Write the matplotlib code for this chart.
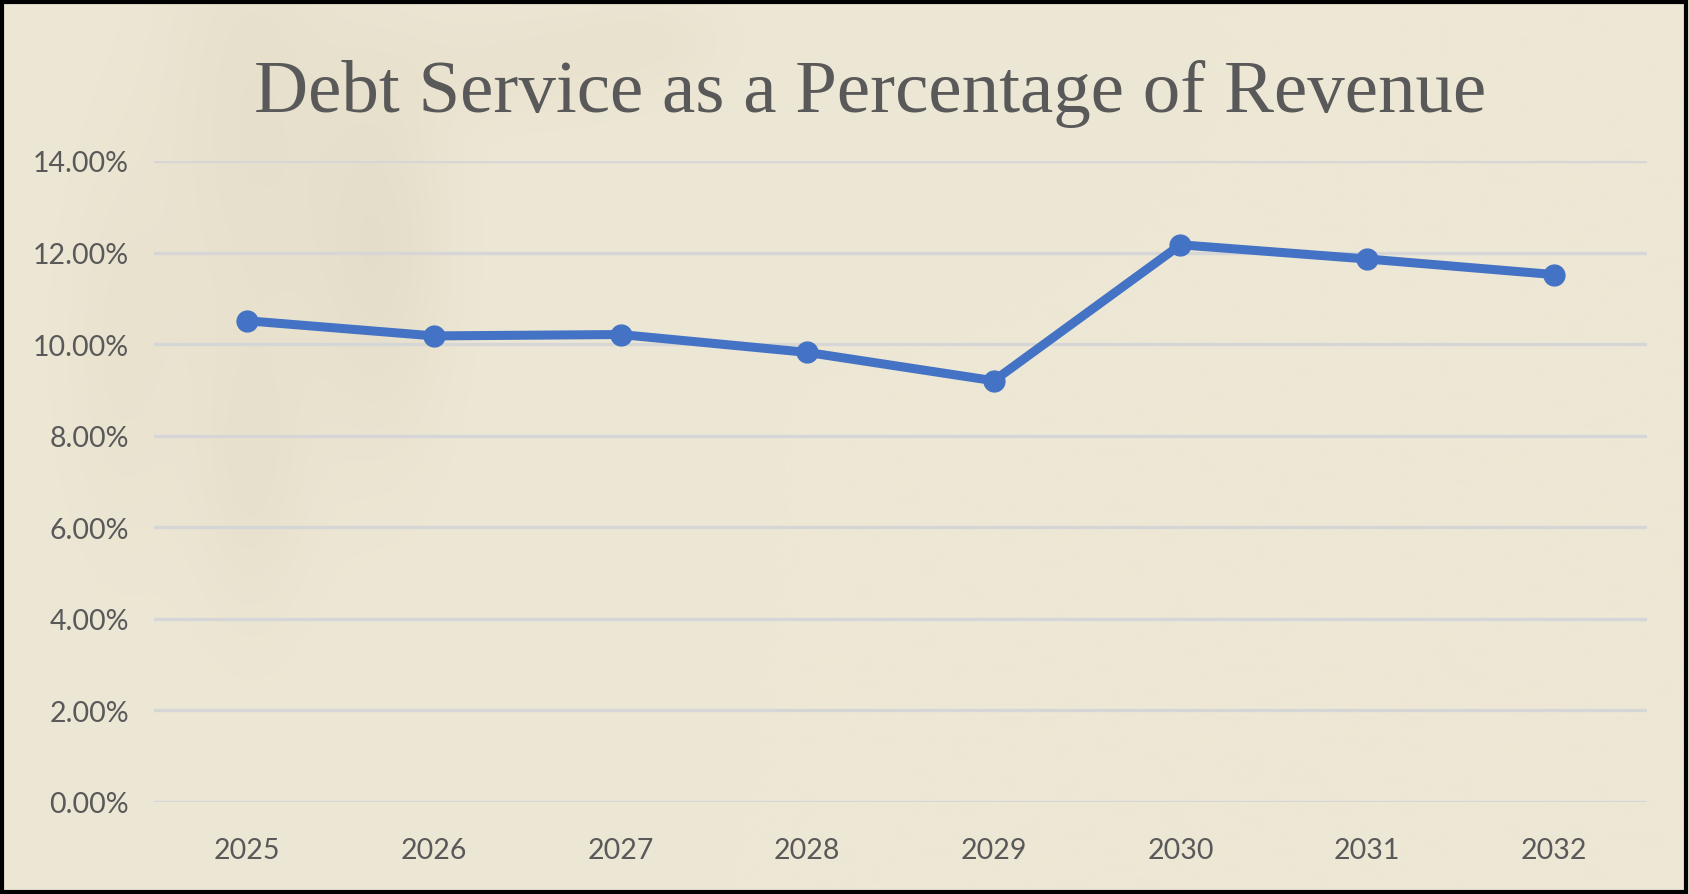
import matplotlib
matplotlib.use("Agg")
import matplotlib.pyplot as plt
import numpy as np
from matplotlib.patches import Rectangle

years = ["2025", "2026", "2027", "2028", "2029", "2030", "2031", "2032"]
debt_service_pct = [10.51, 10.18, 10.21, 9.82, 9.20, 12.17, 11.86, 11.52]
y_ticks = [0, 2, 4, 6, 8, 10, 12, 14]
title = "Debt Service as a Percentage of Revenue"

W, H = 1689, 895
fig = plt.figure(figsize=(W / 100, H / 100), dpi=100)
bg = "#EDE7D5"
fig.patch.set_facecolor(bg)

# soft shadow background (decorative)
bgax = fig.add_axes([0, 0, 1, 1], zorder=0)
yy, xx = np.mgrid[0:H:2, 0:W:2]
img = np.zeros_like(xx, dtype=float)
blobs = [(250, 120, 90, 260, 0.5), (380, 250, 70, 200, 0.6), (250, 480, 60, 150, 0.4),
         (520, 60, 120, 60, 0.3), (650, 40, 80, 50, 0.25), (120, 350, 60, 200, 0.3)]
for cx, cy, sx, sy, a in blobs:
    img += a * np.exp(-(((xx - cx) / sx) ** 2 + ((yy - cy) / sy) ** 2))
img = np.clip(img, 0, 1)
base = np.array([237, 231, 213]) / 255.0
dark = np.array([224, 217, 196]) / 255.0
rgb = base[None, None, :] * (1 - img[..., None]) + dark[None, None, :] * img[..., None]
bgax.imshow(rgb, extent=[0, W, H, 0], aspect="auto", interpolation="bilinear")
bgax.set_xlim(0, W)
bgax.set_ylim(H, 0)
bgax.axis("off")

left, right = 154 / W, 1647 / W
bottom, top = 1 - 803 / H, 1 - 162 / H
ax = fig.add_axes([left, bottom, right - left, top - bottom], zorder=1)
ax.patch.set_alpha(0)

x = np.arange(len(years))
ax.plot(x, debt_service_pct, color="#4472C4", linewidth=6.5, marker="o",
        markersize=15, solid_capstyle="round", zorder=3)

ax.set_xlim(-0.5, len(years) - 0.5)
ax.set_ylim(0, 14)
ax.set_yticks(y_ticks)
ax.set_yticklabels([f"{v:.2f}%" for v in y_ticks])
ax.set_xticks(x)
ax.set_xticklabels(years)
ax.yaxis.grid(True, color="#D6D6D6", linewidth=2.4)
ax.set_axisbelow(True)
for s in ax.spines.values():
    s.set_visible(False)
ax.tick_params(axis="both", length=0, labelsize=20.5, labelcolor="#595959")
ax.tick_params(axis="y", pad=18)
ax.tick_params(axis="x", pad=25)
for lab in ax.get_xticklabels() + ax.get_yticklabels():
    lab.set_fontfamily("Lato")

fig.text(870 / W, 1 - 112 / H, title, ha="center", va="baseline",
         fontsize=54, color="#595959", family="Liberation Serif")

fig.patches.append(Rectangle((0.001, 0.002), 0.997, 0.995, transform=fig.transFigure,
                             fill=False, edgecolor="black", linewidth=3, zorder=10))

fig.savefig("out.png", dpi=100, facecolor=fig.get_facecolor())
